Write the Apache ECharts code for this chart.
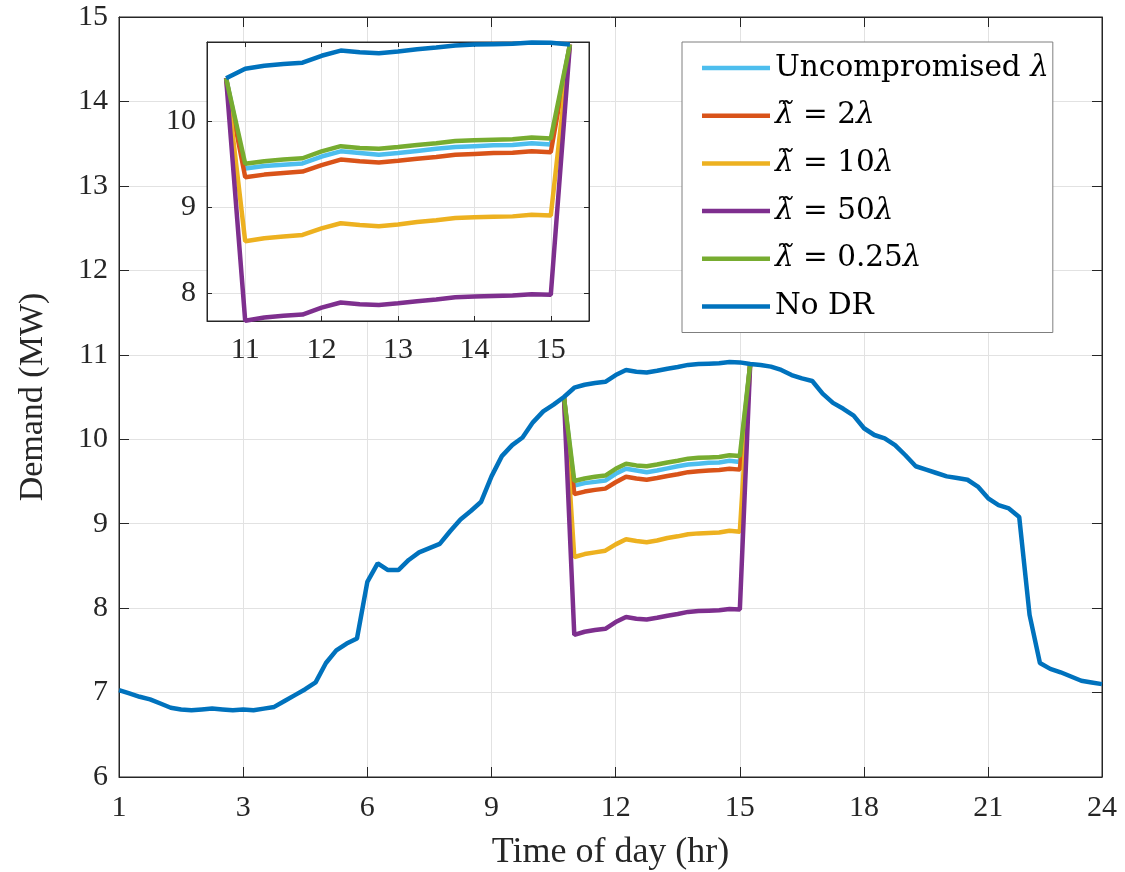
<!DOCTYPE html>
<html><head><meta charset="utf-8">
<script src="https://cdn.jsdelivr.net/npm/echarts@6/dist/echarts.min.js"></script>
<style>html,body{margin:0;padding:0;background:#fff}#c{width:1125px;height:872px}</style>
</head><body><div id="c"></div>
<script>
// ---- data (15-minute resolution, hour = index * 0.25) ----
const noDR = [
  7.03, 6.99, 6.95, 6.92, 6.87, 6.82, 6.80, 6.79, 6.80, 6.81, 6.80, 6.79,
  6.80, 6.79, 6.81, 6.83, 6.90, 6.97, 7.04, 7.12, 7.35, 7.50, 7.58, 7.64,
  8.31, 8.53, 8.45, 8.45, 8.57, 8.66, 8.71, 8.76, 8.91, 9.05, 9.15, 9.26,
  9.56, 9.80, 9.93, 10.02, 10.20, 10.33, 10.41, 10.50, 10.61, 10.645, 10.665, 10.68,
  10.76, 10.82, 10.80, 10.79, 10.81, 10.835, 10.855, 10.88, 10.89, 10.895, 10.90, 10.915,
  10.91, 10.89, 10.88, 10.86, 10.82, 10.76, 10.72, 10.69, 10.54, 10.43, 10.36, 10.28,
  10.13, 10.05, 10.01, 9.93, 9.81, 9.68, 9.64, 9.60, 9.56, 9.54, 9.52, 9.44,
  9.30, 9.22, 9.18, 9.08, 7.92, 7.35, 7.28, 7.24, 7.19, 7.14, 7.12, 7.10
];
const drHours = [10.75, 11, 11.25, 11.5, 11.75, 12, 12.25, 12.5, 12.75, 13, 13.25, 13.5, 13.75, 14, 14.25, 14.5, 14.75, 15, 15.25];
const uncompromised = [10.50, 9.45, 9.48, 9.495, 9.51, 9.59, 9.65, 9.63, 9.61, 9.63, 9.655, 9.68, 9.70, 9.71, 9.72, 9.725, 9.745, 9.73, 10.89];
const lam2 = [10.50, 9.35, 9.38, 9.40, 9.415, 9.49, 9.555, 9.535, 9.52, 9.54, 9.565, 9.585, 9.61, 9.62, 9.63, 9.635, 9.65, 9.64, 10.89];
const lam10 = [10.50, 8.605, 8.64, 8.66, 8.68, 8.755, 8.815, 8.795, 8.78, 8.80, 8.83, 8.85, 8.875, 8.885, 8.89, 8.895, 8.915, 8.905, 10.89];
const lam50 = [10.50, 7.683, 7.72, 7.74, 7.755, 7.835, 7.895, 7.875, 7.865, 7.885, 7.91, 7.93, 7.955, 7.965, 7.97, 7.975, 7.99, 7.985, 10.89];
const lam025 = [10.50, 9.505, 9.535, 9.555, 9.57, 9.65, 9.71, 9.69, 9.68, 9.70, 9.725, 9.745, 9.77, 9.78, 9.785, 9.79, 9.81, 9.80, 10.89];

const xTickValues = [0, 3, 6, 9, 12, 15, 18, 21, 23.75];
const xTickLabels = ['1', '3', '6', '9', '12', '15', '18', '21', '24'];
const insetXTicks = [11, 12, 13, 14, 15];
const insetYTicks = [8, 9, 10];

const seriesNames = ['Uncompromised λ', 'λ̃ = 2λ', 'λ̃ = 10λ', 'λ̃ = 50λ', 'λ̃ = 0.25λ', 'No DR'];
const legendRich = {
  'Uncompromised λ': '{t|Uncompromised }{i|λ}',
  'λ̃ = 2λ': '{i|λ̃}{t| = 2}{i|λ}',
  'λ̃ = 10λ': '{i|λ̃}{t| = 10}{i|λ}',
  'λ̃ = 50λ': '{i|λ̃}{t| = 50}{i|λ}',
  'λ̃ = 0.25λ': '{i|λ̃}{t| = 0.25}{i|λ}',
  'No DR': '{t|No DR}'
};
const colors = ['#4DBEEE', '#D95319', '#EDB120', '#7E2F8E', '#77AC30', '#0072BD'];
const drSeries = [uncompromised, lam2, lam10, lam50, lam025];

// ---- build ----
const FONT = 'Liberation Serif';
const AX = '#262626';
const GRIDC = '#e2e2e2';
const LW = 4.5;
const hours = noDR.map((_, i) => i * 0.25);
const pair = (xs, ys) => ys.map((v, i) => [xs[i], v]);

const series = [];
drSeries.forEach((arr, k) => {
  series.push({ name: seriesNames[k], type: 'line', xAxisIndex: 0, yAxisIndex: 0, data: pair(drHours, arr),
    symbol: 'none', lineStyle: { width: LW, color: colors[k] }, itemStyle: { color: colors[k] }, z: 2 });
});
series.push({ name: 'No DR', type: 'line', xAxisIndex: 0, yAxisIndex: 0, data: pair(hours, noDR),
  symbol: 'none', lineStyle: { width: LW, color: colors[5] }, itemStyle: { color: colors[5] }, z: 2 });
const insetNoDR = pair(hours, noDR).filter(p => p[0] >= 10.75 && p[0] <= 15.25);
drSeries.forEach((arr, k) => {
  series.push({ name: seriesNames[k], type: 'line', xAxisIndex: 2, yAxisIndex: 2, data: pair(drHours, arr),
    symbol: 'none', clip: false, lineStyle: { width: LW, color: colors[k] }, itemStyle: { color: colors[k] }, z: 8 });
});
series.push({ name: 'No DR', type: 'line', xAxisIndex: 2, yAxisIndex: 2, data: insetNoDR,
  symbol: 'none', clip: false, lineStyle: { width: LW, color: colors[5] }, itemStyle: { color: colors[5] }, z: 8 });

const labelStyle = { fontFamily: FONT, fontSize: 30, color: AX };
function mkX(grid, pos, min, max, ticks, labels, showLabel, tickLen, z, margin) {
  return {
    type: 'value', gridIndex: grid, position: pos, min: min, max: max, z: z,
    axisLine: { show: true, onZero: false, lineStyle: { color: AX, width: 1 } },
    axisTick: { show: true, inside: true, length: tickLen, customValues: ticks, lineStyle: { color: AX, width: 1 } },
    axisLabel: { show: showLabel, customValues: ticks, margin: margin, ...labelStyle,
      formatter: v => labels ? labels[ticks.indexOf(v)] : String(v) },
    splitLine: { show: showLabel, lineStyle: { color: GRIDC, width: 1 } }
  };
}
function mkY(grid, pos, min, max, ticks, showLabel, tickLen, z, interval) {
  const ax = {
    type: 'value', gridIndex: grid, position: pos, min: min, max: max, z: z,
    axisLine: { show: true, onZero: false, lineStyle: { color: AX, width: 1 } },
    axisTick: { show: true, inside: true, length: tickLen, lineStyle: { color: AX, width: 1 } },
    axisLabel: { show: showLabel, margin: 11, ...labelStyle },
    splitLine: { show: showLabel, lineStyle: { color: GRIDC, width: 1 } }
  };
  if (ticks) { ax.axisTick.customValues = ticks; ax.axisLabel.customValues = ticks; }
  if (interval) ax.interval = interval;
  return ax;
}

const xAxes = [
  Object.assign(mkX(0, 'bottom', 0, 23.75, xTickValues, xTickLabels, true, 10, 1, 16), {
    name: 'Time of day (hr)', nameLocation: 'middle', nameGap: 58,
    nameTextStyle: { fontFamily: FONT, fontSize: 36, color: AX } }),
  mkX(0, 'top', 0, 23.75, xTickValues, xTickLabels, false, 10, 1, 16),
  mkX(1, 'bottom', 10.5, 15.5, insetXTicks, null, true, 5, 6, 14),
  mkX(1, 'top', 10.5, 15.5, insetXTicks, null, false, 5, 6, 14)
];
const yAxes = [
  Object.assign(mkY(0, 'left', 6, 15, null, true, 10, 1, 1), {
    name: 'Demand (MW)', nameLocation: 'middle', nameGap: 69, nameRotate: 90,
    nameTextStyle: { fontFamily: FONT, fontSize: 34, color: AX } }),
  mkY(0, 'right', 6, 15, null, false, 10, 1, 1),
  mkY(1, 'left', 7.68, 10.92, insetYTicks, true, 5, 6),
  mkY(1, 'right', 7.68, 10.92, insetYTicks, false, 5, 6)
];

const chart = echarts.init(document.getElementById('c'), null, { renderer: 'canvas' });
chart.setOption({
  animation: false,
  backgroundColor: '#fff',
  grid: [
    { left: 119, top: 17, width: 983, height: 760, show: true, borderColor: AX, borderWidth: 1,
      backgroundColor: 'rgba(0,0,0,0)', z: 0, containLabel: false, outerBoundsMode: 'none' },
    { left: 207, top: 42, width: 382, height: 279, show: true, borderColor: AX, borderWidth: 1,
      backgroundColor: '#fff', z: 5, containLabel: false, outerBoundsMode: 'none' }
  ],
  xAxis: xAxes,
  yAxis: yAxes,
  legend: {
    orient: 'vertical', left: 682, top: 42, z: 10,
    data: seriesNames,
    icon: 'rect', itemWidth: 68, itemHeight: 4.5, itemGap: 13.7,
    padding: [9, 4, 9, 20],
    backgroundColor: '#fff', borderColor: '#7f7f7f', borderWidth: 1,
    formatter: n => legendRich[n],
    textStyle: { lineHeight: 34, rich: {
      t: { fontFamily: 'DejaVu Serif', fontSize: 29.5, color: '#000', lineHeight: 34 },
      i: { fontFamily: 'DejaVu Serif', fontStyle: 'italic', fontSize: 29.5, color: '#000', lineHeight: 34 }
    } }
  },
  series: series
});
</script>
</body></html>
